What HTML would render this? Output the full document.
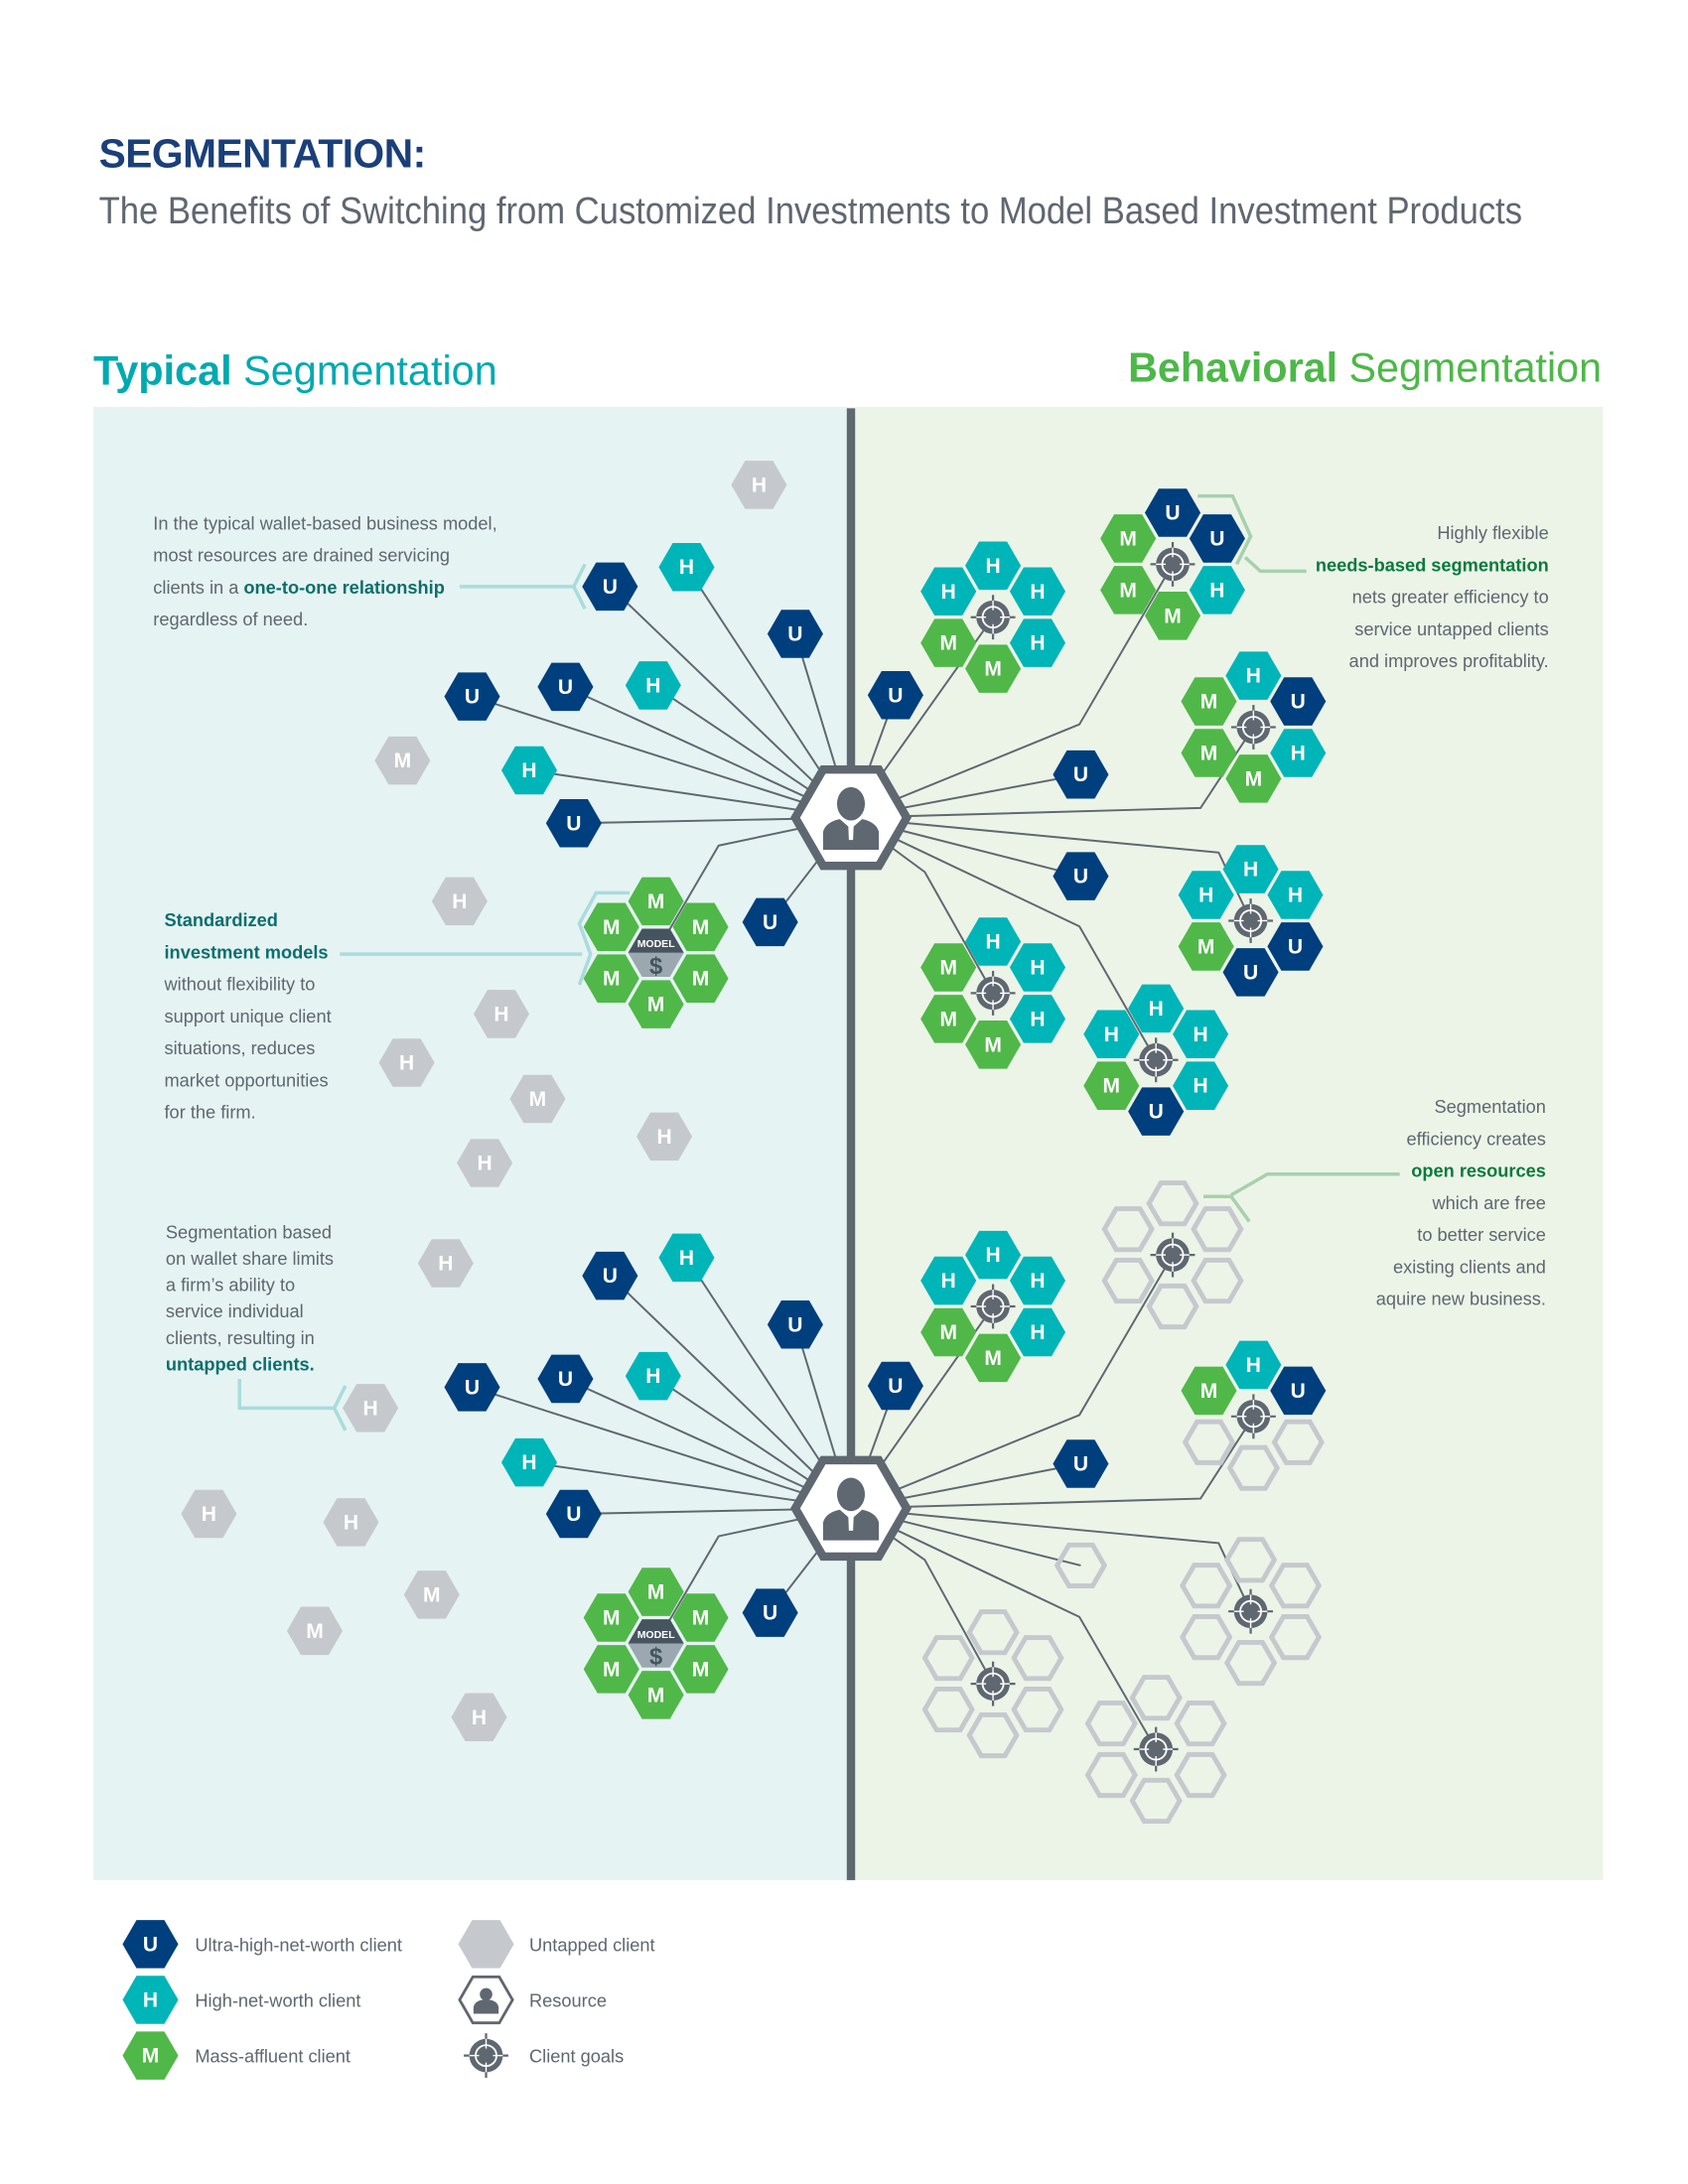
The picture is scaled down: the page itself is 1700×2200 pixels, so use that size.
<!DOCTYPE html>
<html><head><meta charset="utf-8"><style>
html,body{margin:0;padding:0;background:#fff}
svg{display:block}
.U{fill:#003f7d}.H{fill:#00b5b8}.M{fill:#50b848}.G{fill:#c5c9cd}
.O{fill:none;stroke:#c5c9cd;stroke-width:3.5}
text{font-family:"Liberation Sans",sans-serif}
.l{fill:#fff;font-weight:bold;font-size:15px;text-anchor:middle}
.ln{fill:none;stroke:#5f6770;stroke-width:1.4}
.t{fill:#5f6770;font-size:13px}
.r{text-anchor:end}
.bt{font-weight:bold;fill:#0a6f6c}
.bg{font-weight:bold;fill:#0a7a3c}
.co{fill:none;stroke:#a9dcdc;stroke-width:2.5}
.cg{fill:none;stroke:#a8d0ad;stroke-width:2.5}
</style></head><body>
<svg width="1700" height="2200" viewBox="0 0 1212 1568" xmlns="http://www.w3.org/2000/svg">
<defs>
<polygon id="hx" points="20,0 10,17.3 -10,17.3 -20,0 -10,-17.3 10,-17.3"/>
<polygon id="ho" points="17,0 8.5,14.7 -8.5,14.7 -17,0 -8.5,-14.7 8.5,-14.7"/>
<g id="tg">
<line x1="-16" y1="0" x2="16" y2="0" stroke="#5f6770" stroke-width="1.6"/>
<line x1="0" y1="-16" x2="0" y2="16" stroke="#5f6770" stroke-width="1.6"/>
<circle r="12" fill="#5f6770"/>
<circle r="7.5" fill="none" stroke="#fff" stroke-width="1.3"/>
<circle r="4" fill="#5f6770"/>
<line x1="-12" y1="0" x2="-5" y2="0" stroke="#fff" stroke-width="1"/>
<line x1="5" y1="0" x2="12" y2="0" stroke="#fff" stroke-width="1"/>
<line x1="0" y1="-12" x2="0" y2="-5" stroke="#fff" stroke-width="1"/>
<line x1="0" y1="5" x2="0" y2="12" stroke="#fff" stroke-width="1"/>
</g>
<g id="hub">
<polygon points="40,0 20,34.6 -20,34.6 -40,0 -20,-34.6 20,-34.6" fill="#fff" stroke="#5f6770" stroke-width="6"/>
<ellipse cx="0" cy="-10" rx="10" ry="12" fill="#5f6770"/>
<path d="M-20,23 L-20,10 Q-18,3 -8,1 L0,8 L8,1 Q18,3 20,10 L20,23 Z" fill="#5f6770"/>
<path d="M-2,4 L2,4 L1.5,16 L-1.5,16Z" fill="#fff"/>
</g>
<g id="model">
<polygon points="20,0 10,17.3 -10,17.3 -20,0" fill="#9ba8b0"/>
<polygon points="20,0 10,-17.3 -10,-17.3 -20,0" fill="#46545f"/>
<text y="-4" text-anchor="middle" font-size="7.5" font-weight="bold" fill="#fff">MODEL</text>
<text y="15" text-anchor="middle" font-size="17" font-weight="bold" fill="#46545f">$</text>
</g>
</defs>

<!-- Titles -->
<text x="71" y="120" font-size="29" font-weight="bold" fill="#1a3f7a" textLength="235">SEGMENTATION:</text>
<text x="71" y="160" font-size="27" fill="#5f6770" textLength="1022" lengthAdjust="spacingAndGlyphs">The Benefits of Switching from Customized Investments to Model Based Investment Products</text>
<text x="67" y="276" font-size="30" fill="#00a9b0" textLength="290" lengthAdjust="spacingAndGlyphs"><tspan font-weight="bold">Typical</tspan> Segmentation</text>
<text x="810" y="274" font-size="30" fill="#4cb848" textLength="340" lengthAdjust="spacingAndGlyphs"><tspan font-weight="bold">Behavioral</tspan> Segmentation</text>

<!-- Panels -->
<rect x="67" y="292" width="544" height="1058" fill="#e6f3f3"/>
<rect x="611" y="292" width="540" height="1058" fill="#ecf4e8"/>
<rect x="608" y="293" width="6" height="1057" fill="#5f6770"/>

<!-- Left text -->
<text class="t" x="110" y="380">In the typical wallet-based business model,</text>
<text class="t" x="110" y="403">most resources are drained servicing</text>
<text class="t" x="110" y="426">clients in a <tspan class="bt">one-to-one relationship</tspan></text>
<text class="t" x="110" y="449">regardless of need.</text>
<line class="co" x1="330" y1="421" x2="412" y2="421"/>
<polyline class="co" points="420,405 412,421 420,437"/>

<text class="t" x="118" y="665"><tspan class="bt">Standardized</tspan></text>
<text class="t" x="118" y="688"><tspan class="bt">investment models</tspan></text>
<text class="t" x="118" y="711">without flexibility to</text>
<text class="t" x="118" y="734">support unique client</text>
<text class="t" x="118" y="757">situations, reduces</text>
<text class="t" x="118" y="780">market opportunities</text>
<text class="t" x="118" y="803">for the firm.</text>
<line class="co" x1="244" y1="685" x2="418" y2="685"/>
<polyline class="co" points="452,641 428,641 416,663 424,685 416,707"/>

<text class="t" x="119" y="889">Segmentation based</text>
<text class="t" x="119" y="908">on wallet share limits</text>
<text class="t" x="119" y="927">a firm’s ability to</text>
<text class="t" x="119" y="946">service individual</text>
<text class="t" x="119" y="965">clients, resulting in</text>
<text class="t" x="119" y="984"><tspan class="bt">untapped clients.</tspan></text>
<polyline class="co" points="172,990 172,1011 240,1011"/>
<polyline class="co" points="248,995 240,1011 248,1027"/>

<!-- Right text -->
<text class="t r" x="1112" y="387">Highly flexible</text>
<text class="t r" x="1112" y="410"><tspan class="bg">needs-based segmentation</tspan></text>
<text class="t r" x="1112" y="433">nets greater efficiency to</text>
<text class="t r" x="1112" y="456">service untapped clients</text>
<text class="t r" x="1112" y="479">and improves profitablity.</text>
<polyline class="cg" points="938,410 905,410 894,400"/>
<polyline class="cg" points="860,356 885,356 898,385 888,405"/>

<text class="t r" x="1110" y="799">Segmentation</text>
<text class="t r" x="1110" y="822">efficiency creates</text>
<text class="t r" x="1110" y="845"><tspan class="bg">open resources</tspan></text>
<text class="t r" x="1110" y="868">which are free</text>
<text class="t r" x="1110" y="891">to better service</text>
<text class="t r" x="1110" y="914">existing clients and</text>
<text class="t r" x="1110" y="937">aquire new business.</text>
<polyline class="cg" points="1005,843 910,843 884,858"/>
<polyline class="cg" points="864,859 884,859 897,877"/>

<!-- Lines top -->
<g class="ln">
<line x1="611" y1="587" x2="438" y2="421"/><line x1="611" y1="587" x2="493" y2="407"/>
<line x1="611" y1="587" x2="571" y2="455"/><line x1="611" y1="587" x2="469" y2="492"/>
<line x1="611" y1="587" x2="406" y2="493"/><line x1="611" y1="587" x2="339" y2="500"/>
<line x1="611" y1="587" x2="380" y2="553"/><line x1="611" y1="587" x2="412" y2="591"/>
<polyline points="611,587 516,607 478,672"/><line x1="611" y1="587" x2="553" y2="662"/>
<line x1="611" y1="587" x2="643" y2="499"/><line x1="611" y1="587" x2="713" y2="443"/>
<polyline points="611,587 775,520 842,405"/><polyline points="611,587 862,580 900,522"/>
<line x1="611" y1="587" x2="776" y2="556"/><polyline points="611,587 875,612 898,661"/>
<line x1="611" y1="587" x2="776" y2="629"/><polyline points="611,587 664,626 713,713"/>
<polyline points="611,587 775,665 830,761"/>
</g>
<!-- Lines bottom -->
<g class="ln">
<line x1="611" y1="1083" x2="438" y2="916"/><line x1="611" y1="1083" x2="493" y2="903"/>
<line x1="611" y1="1083" x2="571" y2="951"/><line x1="611" y1="1083" x2="469" y2="988"/>
<line x1="611" y1="1083" x2="406" y2="990"/><line x1="611" y1="1083" x2="339" y2="996"/>
<line x1="611" y1="1083" x2="380" y2="1050"/><line x1="611" y1="1083" x2="412" y2="1087"/>
<polyline points="611,1083 516,1103 478,1168"/><line x1="611" y1="1083" x2="553" y2="1158"/>
<line x1="611" y1="1083" x2="643" y2="995"/><line x1="611" y1="1083" x2="713" y2="938"/>
<polyline points="611,1083 775,1016 842,901"/><polyline points="611,1083 862,1076 900,1017"/>
<line x1="611" y1="1083" x2="776" y2="1051"/><polyline points="611,1083 875,1108 898,1157"/>
<line x1="611" y1="1083" x2="776" y2="1124"/><polyline points="611,1083 664,1120 713,1209"/>
<polyline points="611,1083 775,1161 830,1256"/>
</g>

<!-- Gray untapped left -->
<g>
<use href="#hx" class="G" x="545" y="348"/><text class="l" x="545" y="353">H</text>
<use href="#hx" class="G" x="289" y="546"/><text class="l" x="289" y="551">M</text>
<use href="#hx" class="G" x="330" y="647"/><text class="l" x="330" y="652">H</text>
<use href="#hx" class="G" x="360" y="728"/><text class="l" x="360" y="733">H</text>
<use href="#hx" class="G" x="292" y="763"/><text class="l" x="292" y="768">H</text>
<use href="#hx" class="G" x="386" y="789"/><text class="l" x="386" y="794">M</text>
<use href="#hx" class="G" x="477" y="816"/><text class="l" x="477" y="821">H</text>
<use href="#hx" class="G" x="348" y="835"/><text class="l" x="348" y="840">H</text>
<use href="#hx" class="G" x="320" y="907"/><text class="l" x="320" y="912">H</text>
<use href="#hx" class="G" x="266" y="1011"/><text class="l" x="266" y="1016">H</text>
<use href="#hx" class="G" x="150" y="1087"/><text class="l" x="150" y="1092">H</text>
<use href="#hx" class="G" x="252" y="1093"/><text class="l" x="252" y="1098">H</text>
<use href="#hx" class="G" x="310" y="1145"/><text class="l" x="310" y="1150">M</text>
<use href="#hx" class="G" x="226" y="1171"/><text class="l" x="226" y="1176">M</text>
<use href="#hx" class="G" x="344" y="1233"/><text class="l" x="344" y="1238">H</text>
</g>

<!-- Left nodes top -->
<use href="#hx" class="U" x="438" y="421"/><text class="l" x="438" y="426">U</text>
<use href="#hx" class="H" x="493" y="407"/><text class="l" x="493" y="412">H</text>
<use href="#hx" class="U" x="571" y="455"/><text class="l" x="571" y="460">U</text>
<use href="#hx" class="H" x="469" y="492"/><text class="l" x="469" y="497">H</text>
<use href="#hx" class="U" x="406" y="493"/><text class="l" x="406" y="498">U</text>
<use href="#hx" class="U" x="339" y="500"/><text class="l" x="339" y="505">U</text>
<use href="#hx" class="H" x="380" y="553"/><text class="l" x="380" y="558">H</text>
<use href="#hx" class="U" x="412" y="591"/><text class="l" x="412" y="596">U</text>
<use href="#hx" class="U" x="553" y="662"/><text class="l" x="553" y="667">U</text>
<g transform="translate(471,684)">
<use href="#hx" class="M" x="0" y="-37"/><text class="l" x="0" y="-32">M</text>
<use href="#hx" class="M" x="32" y="-18.5"/><text class="l" x="32" y="-13.5">M</text>
<use href="#hx" class="M" x="32" y="18.5"/><text class="l" x="32" y="23.5">M</text>
<use href="#hx" class="M" x="0" y="37"/><text class="l" x="0" y="42">M</text>
<use href="#hx" class="M" x="-32" y="18.5"/><text class="l" x="-32" y="23.5">M</text>
<use href="#hx" class="M" x="-32" y="-18.5"/><text class="l" x="-32" y="-13.5">M</text>
<use href="#model"/>
</g>

<!-- Left nodes bottom -->
<use href="#hx" class="U" x="438" y="916"/><text class="l" x="438" y="921">U</text>
<use href="#hx" class="H" x="493" y="903"/><text class="l" x="493" y="908">H</text>
<use href="#hx" class="U" x="571" y="951"/><text class="l" x="571" y="956">U</text>
<use href="#hx" class="H" x="469" y="988"/><text class="l" x="469" y="993">H</text>
<use href="#hx" class="U" x="406" y="990"/><text class="l" x="406" y="995">U</text>
<use href="#hx" class="U" x="339" y="996"/><text class="l" x="339" y="1001">U</text>
<use href="#hx" class="H" x="380" y="1050"/><text class="l" x="380" y="1055">H</text>
<use href="#hx" class="U" x="412" y="1087"/><text class="l" x="412" y="1092">U</text>
<use href="#hx" class="U" x="553" y="1158"/><text class="l" x="553" y="1163">U</text>
<g transform="translate(471,1180)">
<use href="#hx" class="M" x="0" y="-37"/><text class="l" x="0" y="-32">M</text>
<use href="#hx" class="M" x="32" y="-18.5"/><text class="l" x="32" y="-13.5">M</text>
<use href="#hx" class="M" x="32" y="18.5"/><text class="l" x="32" y="23.5">M</text>
<use href="#hx" class="M" x="0" y="37"/><text class="l" x="0" y="42">M</text>
<use href="#hx" class="M" x="-32" y="18.5"/><text class="l" x="-32" y="23.5">M</text>
<use href="#hx" class="M" x="-32" y="-18.5"/><text class="l" x="-32" y="-13.5">M</text>
<use href="#model"/>
</g>

<!-- Right top singles -->
<use href="#hx" class="U" x="643" y="499"/><text class="l" x="643" y="504">U</text>
<use href="#hx" class="U" x="776" y="556"/><text class="l" x="776" y="561">U</text>
<use href="#hx" class="U" x="776" y="629"/><text class="l" x="776" y="634">U</text>

<!-- Cluster A -->
<g transform="translate(713,443)">
<use href="#hx" class="H" x="0" y="-37"/><text class="l" x="0" y="-32">H</text>
<use href="#hx" class="H" x="32" y="-18.5"/><text class="l" x="32" y="-13.5">H</text>
<use href="#hx" class="H" x="32" y="18.5"/><text class="l" x="32" y="23.5">H</text>
<use href="#hx" class="M" x="0" y="37"/><text class="l" x="0" y="42">M</text>
<use href="#hx" class="M" x="-32" y="18.5"/><text class="l" x="-32" y="23.5">M</text>
<use href="#hx" class="H" x="-32" y="-18.5"/><text class="l" x="-32" y="-13.5">H</text>
<use href="#tg"/></g>
<!-- Cluster B -->
<g transform="translate(842,405)">
<use href="#hx" class="U" x="0" y="-37"/><text class="l" x="0" y="-32">U</text>
<use href="#hx" class="U" x="32" y="-18.5"/><text class="l" x="32" y="-13.5">U</text>
<use href="#hx" class="H" x="32" y="18.5"/><text class="l" x="32" y="23.5">H</text>
<use href="#hx" class="M" x="0" y="37"/><text class="l" x="0" y="42">M</text>
<use href="#hx" class="M" x="-32" y="18.5"/><text class="l" x="-32" y="23.5">M</text>
<use href="#hx" class="M" x="-32" y="-18.5"/><text class="l" x="-32" y="-13.5">M</text>
<use href="#tg"/></g>
<!-- Cluster C -->
<g transform="translate(900,522)">
<use href="#hx" class="H" x="0" y="-37"/><text class="l" x="0" y="-32">H</text>
<use href="#hx" class="U" x="32" y="-18.5"/><text class="l" x="32" y="-13.5">U</text>
<use href="#hx" class="H" x="32" y="18.5"/><text class="l" x="32" y="23.5">H</text>
<use href="#hx" class="M" x="0" y="37"/><text class="l" x="0" y="42">M</text>
<use href="#hx" class="M" x="-32" y="18.5"/><text class="l" x="-32" y="23.5">M</text>
<use href="#hx" class="M" x="-32" y="-18.5"/><text class="l" x="-32" y="-13.5">M</text>
<use href="#tg"/></g>
<!-- Cluster D -->
<g transform="translate(898,661)">
<use href="#hx" class="H" x="0" y="-37"/><text class="l" x="0" y="-32">H</text>
<use href="#hx" class="H" x="32" y="-18.5"/><text class="l" x="32" y="-13.5">H</text>
<use href="#hx" class="U" x="32" y="18.5"/><text class="l" x="32" y="23.5">U</text>
<use href="#hx" class="U" x="0" y="37"/><text class="l" x="0" y="42">U</text>
<use href="#hx" class="M" x="-32" y="18.5"/><text class="l" x="-32" y="23.5">M</text>
<use href="#hx" class="H" x="-32" y="-18.5"/><text class="l" x="-32" y="-13.5">H</text>
<use href="#tg"/></g>
<!-- Cluster E -->
<g transform="translate(713,713)">
<use href="#hx" class="H" x="0" y="-37"/><text class="l" x="0" y="-32">H</text>
<use href="#hx" class="H" x="32" y="-18.5"/><text class="l" x="32" y="-13.5">H</text>
<use href="#hx" class="H" x="32" y="18.5"/><text class="l" x="32" y="23.5">H</text>
<use href="#hx" class="M" x="0" y="37"/><text class="l" x="0" y="42">M</text>
<use href="#hx" class="M" x="-32" y="18.5"/><text class="l" x="-32" y="23.5">M</text>
<use href="#hx" class="M" x="-32" y="-18.5"/><text class="l" x="-32" y="-13.5">M</text>
<use href="#tg"/></g>
<!-- Cluster F -->
<g transform="translate(830,761)">
<use href="#hx" class="H" x="0" y="-37"/><text class="l" x="0" y="-32">H</text>
<use href="#hx" class="H" x="32" y="-18.5"/><text class="l" x="32" y="-13.5">H</text>
<use href="#hx" class="H" x="32" y="18.5"/><text class="l" x="32" y="23.5">H</text>
<use href="#hx" class="U" x="0" y="37"/><text class="l" x="0" y="42">U</text>
<use href="#hx" class="M" x="-32" y="18.5"/><text class="l" x="-32" y="23.5">M</text>
<use href="#hx" class="H" x="-32" y="-18.5"/><text class="l" x="-32" y="-13.5">H</text>
<use href="#tg"/></g>

<!-- Right bottom -->
<use href="#hx" class="U" x="643" y="995"/><text class="l" x="643" y="1000">U</text>
<use href="#hx" class="U" x="776" y="1051"/><text class="l" x="776" y="1056">U</text>
<use href="#ho" class="O" x="776" y="1124"/>
<g transform="translate(713,938)">
<use href="#hx" class="H" x="0" y="-37"/><text class="l" x="0" y="-32">H</text>
<use href="#hx" class="H" x="32" y="-18.5"/><text class="l" x="32" y="-13.5">H</text>
<use href="#hx" class="H" x="32" y="18.5"/><text class="l" x="32" y="23.5">H</text>
<use href="#hx" class="M" x="0" y="37"/><text class="l" x="0" y="42">M</text>
<use href="#hx" class="M" x="-32" y="18.5"/><text class="l" x="-32" y="23.5">M</text>
<use href="#hx" class="H" x="-32" y="-18.5"/><text class="l" x="-32" y="-13.5">H</text>
<use href="#tg"/></g>
<g transform="translate(842,901)">
<use href="#ho" class="O" x="0" y="-37"/><use href="#ho" class="O" x="32" y="-18.5"/><use href="#ho" class="O" x="32" y="18.5"/>
<use href="#ho" class="O" x="0" y="37"/><use href="#ho" class="O" x="-32" y="18.5"/><use href="#ho" class="O" x="-32" y="-18.5"/>
<use href="#tg"/></g>
<g transform="translate(900,1017)">
<use href="#hx" class="H" x="0" y="-37"/><text class="l" x="0" y="-32">H</text>
<use href="#hx" class="U" x="32" y="-18.5"/><text class="l" x="32" y="-13.5">U</text>
<use href="#ho" class="O" x="32" y="18.5"/><use href="#ho" class="O" x="0" y="37"/><use href="#ho" class="O" x="-32" y="18.5"/>
<use href="#hx" class="M" x="-32" y="-18.5"/><text class="l" x="-32" y="-13.5">M</text>
<use href="#tg"/></g>
<g transform="translate(898,1157)">
<use href="#ho" class="O" x="0" y="-37"/><use href="#ho" class="O" x="32" y="-18.5"/><use href="#ho" class="O" x="32" y="18.5"/>
<use href="#ho" class="O" x="0" y="37"/><use href="#ho" class="O" x="-32" y="18.5"/><use href="#ho" class="O" x="-32" y="-18.5"/>
<use href="#tg"/></g>
<g transform="translate(713,1209)">
<use href="#ho" class="O" x="0" y="-37"/><use href="#ho" class="O" x="32" y="-18.5"/><use href="#ho" class="O" x="32" y="18.5"/>
<use href="#ho" class="O" x="0" y="37"/><use href="#ho" class="O" x="-32" y="18.5"/><use href="#ho" class="O" x="-32" y="-18.5"/>
<use href="#tg"/></g>
<g transform="translate(830,1256)">
<use href="#ho" class="O" x="0" y="-37"/><use href="#ho" class="O" x="32" y="-18.5"/><use href="#ho" class="O" x="32" y="18.5"/>
<use href="#ho" class="O" x="0" y="37"/><use href="#ho" class="O" x="-32" y="18.5"/><use href="#ho" class="O" x="-32" y="-18.5"/>
<use href="#tg"/></g>

<!-- Hubs -->
<use href="#hub" x="611" y="587"/>
<use href="#hub" x="611" y="1083"/>

<!-- Legend -->
<use href="#hx" class="U" x="108" y="1396"/><text class="l" x="108" y="1401">U</text>
<use href="#hx" class="H" x="108" y="1436"/><text class="l" x="108" y="1441">H</text>
<use href="#hx" class="M" x="108" y="1476"/><text class="l" x="108" y="1481">M</text>
<text class="t" x="140" y="1401">Ultra-high-net-worth client</text>
<text class="t" x="140" y="1441">High-net-worth client</text>
<text class="t" x="140" y="1481">Mass-affluent client</text>
<use href="#hx" class="G" x="349" y="1396"/>
<g transform="translate(349,1436)">
<polygon points="19,0 9.5,16.5 -9.5,16.5 -19,0 -9.5,-16.5 9.5,-16.5" fill="none" stroke="#5f6770" stroke-width="2"/>
<circle cx="0" cy="-4" r="4.5" fill="#5f6770"/>
<path d="M-9,10 L-9,5 Q-8,1 -3,0 L3,0 Q8,1 9,5 L9,10Z" fill="#5f6770"/>
</g>
<use href="#tg" x="349" y="1476"/>
<text class="t" x="380" y="1401">Untapped client</text>
<text class="t" x="380" y="1441">Resource</text>
<text class="t" x="380" y="1481">Client goals</text>
</svg>
</body></html>
